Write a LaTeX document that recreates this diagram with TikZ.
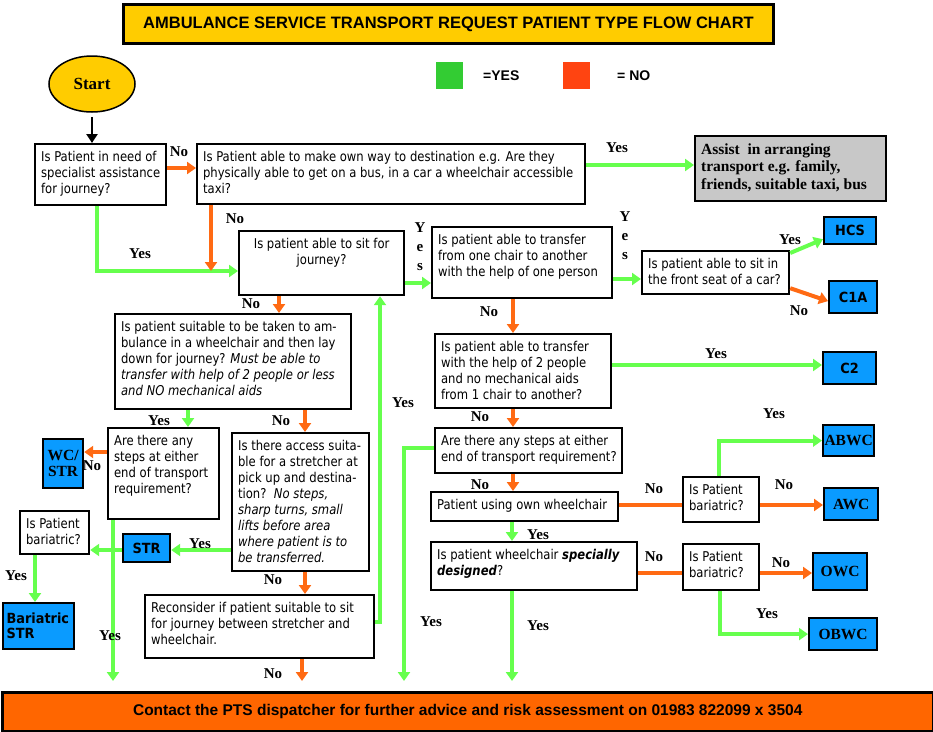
\documentclass[tikz,border=0pt]{standalone}
\usepackage{fontspec}
\setmainfont{Liberation Serif}
\newfontfamily\qf[FakeStretch=0.86]{DejaVu Sans}
\newfontfamily\bsf[FakeStretch=0.92]{DejaVu Sans}
\newfontfamily\af{Liberation Sans}
\usetikzlibrary{arrows.meta,shapes.geometric}
\definecolor{ygreen}{HTML}{66FF4D}
\definecolor{nored}{HTML}{FF6A13}
\definecolor{titley}{HTML}{FFCC00}
\definecolor{boxblue}{HTML}{0A9BFF}
\definecolor{boxgray}{HTML}{C8C8C8}
\definecolor{barorange}{HTML}{FF6600}
\definecolor{leggreen}{HTML}{33CC33}
\definecolor{legred}{HTML}{FF4411}
\newcommand\bt[3]{\parbox[c][\dimexpr#2pt-14pt\relax][t]{\dimexpr#1pt-12pt\relax}{\begin{tabular}[t]{@{}l@{}}#3\end{tabular}}}
\newcommand\ct[3]{\parbox[c][\dimexpr#2pt-14pt\relax][t]{\dimexpr#1pt-12pt\relax}{\centering\begin{tabular}[t]{@{}c@{}}#3\end{tabular}}}
\begin{document}
\begin{tikzpicture}[x=1pt,y=-1pt,
  qb/.style={draw, line width=2.2pt, fill=white, inner xsep=6pt, inner ysep=6pt, anchor=north west, font=\qf\fontsize{13.5}{16}\selectfont},
  bluebox/.style={draw, line width=2.2pt, fill=boxblue, inner sep=0pt, anchor=north west, align=center},
  bsans/.style={font=\bsf\bfseries\fontsize{14}{15}\selectfont},
  bserif/.style={font=\bfseries\fontsize{15.5}{16}\selectfont},
  lab/.style={font=\bfseries\fontsize{15}{15}\selectfont, inner sep=0pt},
  yarr/.style={ygreen, line width=4pt, -{Triangle[length=9pt,width=12pt]}},
  narr/.style={nored, line width=4pt, -{Triangle[length=9pt,width=12pt]}},
  yline/.style={ygreen, line width=4pt},
  nline/.style={nored, line width=4pt}]
\useasboundingbox (0,0) rectangle (933,731);
% title and legend
\node[draw, line width=3pt, fill=titley, anchor=north west, minimum width=650pt, minimum height=39pt, inner sep=0pt, font=\af\bfseries\fontsize{16.5}{17}\selectfont] (title) at (122,3) {AMBULANCE SERVICE TRANSPORT REQUEST PATIENT TYPE FLOW CHART};
\node[ellipse, draw, line width=1.5pt, fill=titley, minimum width=86pt, minimum height=56pt, font=\bfseries\fontsize{17}{17}\selectfont] (start) at (92,84) {Start};
\node[fill=leggreen, minimum size=27pt, inner sep=0pt] (lg) at (449,75) {};
\node[font=\af\bfseries\fontsize{14}{14}\selectfont, anchor=west, inner sep=0pt] (lgt) at (483,76) {=YES};
\node[fill=legred, minimum size=27pt, inner sep=0pt] (lr) at (576,75) {};
\node[font=\af\bfseries\fontsize{14}{14}\selectfont, anchor=west, inner sep=0pt] (lrt) at (617,76) {= NO};
% question boxes
\node[qb] (q1) at (34,143) {\bt{131}{63}{Is Patient in need of\\specialist assistance\\for journey?}};
\node[qb] (q2) at (196,143) {\bt{388}{62}{Is Patient able to make own way to destination e.g. Are they\\physically able to get on a bus, in a car a wheelchair accessible\\taxi?}};
\node[qb, fill=boxgray, font=\bfseries\fontsize{15.5}{17.5}\selectfont] (assist) at (694,135) {\bt{191}{67}{Assist\ \ in arranging\\transport e.g. family,\\friends, suitable taxi, bus}};
\node[qb] (q3) at (238,230) {\ct{165}{66}{Is patient able to sit for\\journey?}};
\node[qb] (q4) at (431,226) {\bt{180}{73}{Is patient able to transfer\\from one chair to another\\with the help of one person}};
\node[qb] (q5) at (641,250) {\bt{147}{45}{Is patient able to sit in\\the front seat of a car?}};
\node[qb] (q6) at (434,333) {\bt{176}{76}{Is patient able to transfer\\with the help of 2 people\\and no mechanical aids\\from 1 chair to another?}};
\node[qb] (q7) at (434,427) {\bt{187}{47}{Are there any steps at either\\end of transport requirement?}};
\node[qb] (q8) at (430,491) {\bt{187}{31}{Patient using own wheelchair}};
\node[qb] (b1) at (682,476) {\bt{76}{47}{Is Patient\\bariatric?}};
\node[qb] (q9) at (430,541) {\bt{206}{50}{Is patient wheelchair \textbf{\textit{specially}}\\\textbf{\textit{designed}}?}};
\node[qb] (b2) at (682,543) {\bt{76}{48}{Is Patient\\bariatric?}};
\node[qb] (q10) at (114,313) {\bt{236}{97}{Is patient suitable to be taken to am-\\bulance in a wheelchair and then lay\\down for journey? \textit{Must be able to}\\\textit{transfer with help of 2 people or less}\\\textit{and NO mechanical aids}}};
\node[qb] (q11) at (107,427) {\bt{111}{93}{Are there any\\steps at either\\end of transport\\requirement?}};
\node[qb] (q12) at (231,432) {\bt{137}{140}{Is there access suita-\\ble for a stretcher at\\pick up and destina-\\tion?\ \ \textit{No steps,}\\\textit{sharp turns, small}\\\textit{lifts before area}\\\textit{where patient is to}\\\textit{be transferred.}}};
\node[qb] (q13) at (19,510) {\bt{69}{45}{Is Patient\\bariatric?}};
\node[qb] (q14) at (144,594) {\bt{229}{65}{Reconsider if patient suitable to sit\\for journey between stretcher and\\wheelchair.}};
% outcome boxes
\node[bluebox, bsans, minimum width=52pt, minimum height=27pt] (hcs) at (823,216) {HCS};
\node[bluebox, bsans, minimum width=48pt, minimum height=32pt] (c1a) at (828,280) {C1A};
\node[bluebox, bsans, minimum width=53pt, minimum height=32pt] (c2) at (822,351) {C2};
\node[bluebox, bserif, minimum width=51pt, minimum height=31pt] (abwc) at (822,424) {ABWC};
\node[bluebox, bserif, minimum width=54pt, minimum height=32pt] (awc) at (823,487) {AWC};
\node[bluebox, bserif, minimum width=54pt, minimum height=37pt] (owc) at (812,552) {OWC};
\node[bluebox, bserif, minimum width=68pt, minimum height=32pt] (obwc) at (808,617) {OBWC};
\node[bluebox, bserif, minimum width=40pt, minimum height=49pt] (wcstr) at (42,438) {WC/\\STR};
\node[bluebox, bsans, minimum width=47pt, minimum height=28pt] (str) at (122,533) {STR};
\node[bluebox, bsans, minimum width=71pt, minimum height=46pt, align=left, text width=63pt] (bstr) at (1.5,602) {Bariatric\\STR};
\node[draw, line width=2.5pt, fill=barorange, anchor=north west, minimum width=931pt, minimum height=39pt, inner sep=0pt, font=\af\bfseries\fontsize{15.5}{16}\selectfont] (bar) at (1,691) {Contact the PTS dispatcher for further advice and risk assessment on 01983 822099 x 3504};
% free ends
\coordinate (j1) at (211,271);
\coordinate (e1) at (113,681);
\coordinate (e2) at (302,681);
\coordinate (e3) at (404,681);
\coordinate (e4) at (512,681);
% connectors
\draw[black, line width=2.5pt, -{Triangle[length=9pt,width=11pt]}] ([yshift=-4pt]start.south) -- (start.south |- q1.north);
\draw[yarr] (q1.south -| 97,0) |- (q3.west |- j1);
\draw[narr] (q1.east |- 0,168) -- (q2.west |- 0,168);
\draw[yarr] (q2.east |- 0,165) -- (assist.west |- 0,165);
\draw[narr] (q2.south -| j1) -- (j1);
\draw[yarr] (q3.east |- 0,283) -- (q4.west |- 0,283);
\draw[yarr] (q4.east |- 0,279) -- (q5.west |- 0,279);
\draw[yarr] ([yshift=-3pt]q5.north east) -- ([yshift=6pt]hcs.south west);
\draw[narr] ([yshift=7pt]q5.south east) -- ([yshift=-4pt]c1a.west);
\draw[narr] (q4.south -| 513,0) -- (q6.north -| 513,0);
\draw[yarr] (q6.east |- 0,365) -- (c2.west |- 0,365);
\draw[narr] (q6.south -| 513,0) -- (q7.north -| 513,0);
\draw[yarr] (q7.west |- 0,448) -| (e3);
\draw[narr] (q7.south -| 513,0) -- (q8.north -| 513,0);
\draw[nline] (q8.east |- 0,505) -- (b1.west |- 0,505);
\draw[yarr] (b1.north -| 719,0) |- (abwc.west);
\draw[narr] (b1.east |- 0,505) -- (awc.west |- 0,505);
\draw[yarr] (q8.south -| 512,0) -- (q9.north -| 512,0);
\draw[nline] (q9.east |- 0,573) -- (b2.west |- 0,573);
\draw[narr] (b2.east |- 0,573) -- (owc.west |- 0,573);
\draw[yarr] (b2.south -| 720,0) |- (obwc.west);
\draw[yarr] (q9.south -| 512,0) -- (e4);
\draw[narr] (q3.south -| 279,0) -- (q10.north -| 279,0);
\draw[yarr] (q10.south -| 188,0) -- (q11.north -| 188,0);
\draw[narr] (q10.south -| 305,0) -- (q12.north -| 305,0);
\draw[narr] (q11.west |- 0,452) -- (wcstr.east |- 0,452);
\draw[yarr] (q11.south -| 113,0) -- (e1);
\draw[yarr] (q12.west |- 0,550) -- (str.east |- 0,550);
\draw[yarr] (str.west |- 0,550) -- (q13.east |- 0,550);
\draw[yarr] (q13.south -| 35,0) -- (bstr.north -| 35,0);
\draw[narr] (q12.south -| 305,0) -- (q14.north -| 305,0);
\draw[yarr] (q14.east |- 0,622) -| (q3.south -| 380,0);
\draw[narr] (q14.south -| 302,0) -- (e2);
% labels
\node[lab] (l1) at (179,152) {No};
\node[lab] (l2) at (617,148) {Yes};
\node[lab] (l3) at (235,219) {No};
\node[lab] (l4) at (140,254) {Yes};
\node[lab, align=center, font=\bfseries\fontsize{15}{19}\selectfont] (l5) at (420,247) {Y\\e\\s};
\node[lab, align=center, font=\bfseries\fontsize{15}{19}\selectfont] (l6) at (625,236) {Y\\e\\s};
\node[lab] (l7) at (790,240) {Yes};
\node[lab] (l8) at (799,311) {No};
\node[lab] (l9) at (489,312) {No};
\node[lab] (l10) at (716,354) {Yes};
\node[lab] (l11) at (480,417) {No};
\node[lab] (l12) at (774,414) {Yes};
\node[lab] (l13) at (480,485) {No};
\node[lab] (l14) at (654,489) {No};
\node[lab] (l15) at (784,485) {No};
\node[lab] (l16) at (538,535) {Yes};
\node[lab] (l17) at (654,557) {No};
\node[lab] (l18) at (781,563) {No};
\node[lab] (l19) at (767,614) {Yes};
\node[lab] (l20) at (431,622) {Yes};
\node[lab] (l21) at (538,626) {Yes};
\node[lab] (l22) at (251,304) {No};
\node[lab] (l23) at (159,421) {Yes};
\node[lab] (l24) at (281,421) {No};
\node[lab] (l25) at (92,466) {No};
\node[lab] (l26) at (403,403) {Yes};
\node[lab] (l27) at (200,544) {Yes};
\node[lab] (l28) at (16,576) {Yes};
\node[lab] (l29) at (110,636) {Yes};
\node[lab] (l30) at (273,580) {No};
\node[lab] (l31) at (273,674) {No};
\end{tikzpicture}
\end{document}
